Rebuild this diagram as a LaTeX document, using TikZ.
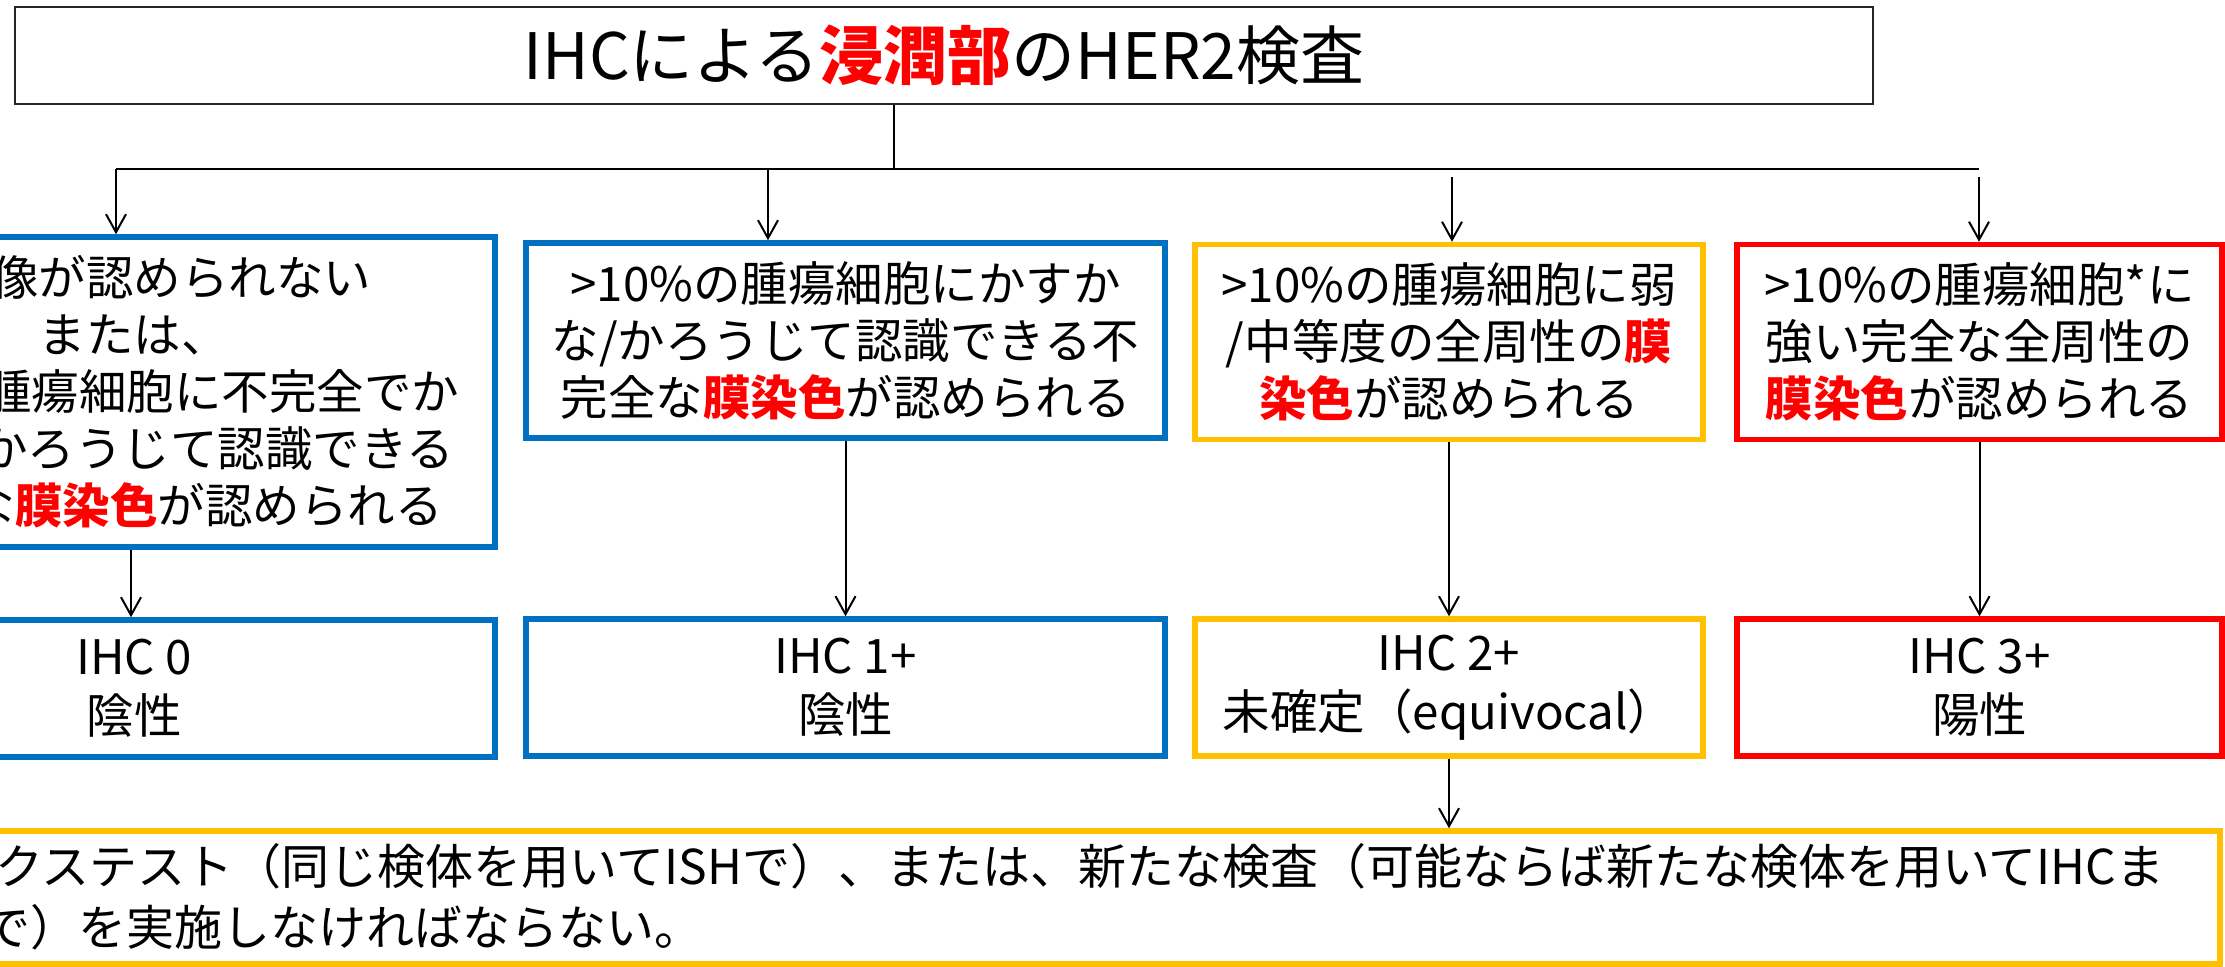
\documentclass[tikz,border=0pt]{standalone}
\usepackage{fontspec}
\setmainfont{Noto Sans CJK JP}
\usetikzlibrary{arrows.meta}
\definecolor{mblue}{RGB}{0,112,192}
\definecolor{myellow}{RGB}{255,192,0}
\definecolor{mred}{RGB}{255,0,0}
\newcommand{\hlred}[1]{\textcolor{mred}{\textbf{#1}}}
\begin{document}
\begin{tikzpicture}[x=0.5pt,y=-0.5pt,
  box/.style={draw, line width=2.75pt, rectangle, inner sep=0pt, align=center,
    font=\fontsize{23.75}{28.5}\selectfont},
  bluebox/.style={box, draw=mblue},
  yellowbox/.style={box, draw=myellow},
  redbox/.style={box, draw=mred},
  rowone/.style={minimum height=97.5pt},
  rowtwo/.style={minimum height=68.5pt, font=\fontsize{23.75}{29.5}\selectfont},
  plain/.style={line width=1pt},
  conn/.style={line width=1pt, -{Straight Barb[length=9pt,width=10pt,line width=1pt]}},
  bottomtext/.style={inner sep=0pt, font=\fontsize{24}{30}\selectfont}
]
\path[use as bounding box] (0,0) rectangle (2225,966);
\clip (0,0) rectangle (2225,966);

% title
\node[draw=black!85, line width=1.2pt, minimum width=929pt, minimum height=48.5pt, inner sep=0pt]
  (title) at (944,55.5) {\fontsize{32}{38}\selectfont IHCによる\hlred{浸潤部}のHER2検査};

% first row
\node[bluebox, minimum width=361pt, minimum height=155pt] (A) at (134,392)
  {\hspace*{2em}像が認められない\\または、\\\hspace*{3.7em}腫瘍細胞に不完全でか\\\hspace*{3.5em}かろうじて認識できる\\\hspace*{3em}な\hlred{膜染色}が認められる};
\node[bluebox, rowone, minimum width=319.5pt] (B) at (845.5,340.5)
  {>10\%の腫瘍細胞にかすか\\な/かろうじて認識できる不\\完全な\hlred{膜染色}が認められる};
\node[yellowbox, rowone, minimum width=254pt] (C) at (1449,342)
  {>10\%の腫瘍細胞に弱\\/中等度の全周性の\hlred{膜}\\\hlred{染色}が認められる};
\node[redbox, rowone, minimum width=242.5pt] (D) at (1979.5,342)
  {>10\%の腫瘍細胞*に\\強い完全な全周性の\\\hlred{膜染色}が認められる};

% second row
\node[bluebox, rowtwo, minimum width=361pt] (A2) at (134,688.5) {IHC 0\\陰性};
\node[bluebox, rowtwo, minimum width=319.5pt] (B2) at (845.5,687.5) {IHC 1+\\陰性};
\node[yellowbox, rowtwo, minimum width=254pt] (C2) at (1449,687.5) {IHC 2+\\未確定（equivocal）};
\node[redbox, rowtwo, minimum width=242.5pt] (D2) at (1979.5,687.5) {IHC 3+\\陽性};

% bottom box
\node[yellowbox, minimum width=1260pt, minimum height=66.5pt] (rec) at (960,897.5) {};
\node[bottomtext, anchor=west] (recA) at (-5,866)
  {クステスト（同じ検体を用いてISHで）、または、新たな検査（可能ならば新たな検体を用いてIHCま};
\node[bottomtext, anchor=west] (recB) at (-18,927)
  {で）を実施しなければならない。};

% connectors
\coordinate (hj) at (894,169);
\coordinate (hl) at (116,169);
\coordinate (hr) at (1979,169);
\coordinate (h2) at (768,169);
\coordinate (h3) at (1452,177);
\coordinate (h4) at (1979,177);
\draw[plain] (title.south -| hj) -- (hj);
\draw[plain] (hl) -- (hr);
\draw[conn] (hl) -- (hl |- A.north);
\draw[conn] (h2) -- (h2 |- B.north);
\draw[conn] (h3) -- (h3 |- C.north);
\draw[conn] (h4) -- (h4 |- D.north);

\draw[conn] ([xshift=-1.5pt]A.south) -- ([xshift=-1.5pt]A2.north);
\draw[conn] (B.south) -- (B2.north);
\draw[conn] (C.south) -- (C2.north);
\draw[conn] (D.south) -- (D2.north);
\draw[conn] (C2.south) -- (C2.south |- rec.north);
\end{tikzpicture}
\end{document}
